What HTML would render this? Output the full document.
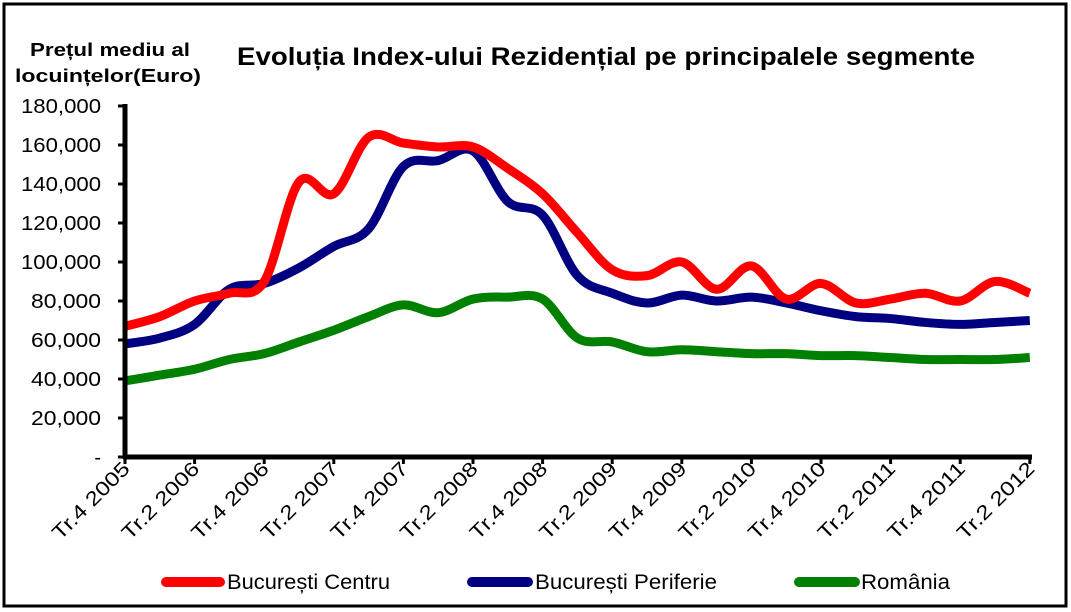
<!DOCTYPE html>
<html><head><meta charset="utf-8"><style>
html,body{margin:0;padding:0;background:#fff;}
svg{display:block;font-family:"Liberation Sans",sans-serif;}
</style></head><body>
<svg id="s" width="1071" height="612" xmlns="http://www.w3.org/2000/svg">
<rect x="4" y="4" width="1062" height="602" fill="#fff" stroke="#000" stroke-width="3"/>
<text x="110" y="56" font-size="18" font-weight="bold" text-anchor="middle" textLength="160" lengthAdjust="spacingAndGlyphs">Prețul mediu al</text>
<text x="108" y="82" font-size="18" font-weight="bold" text-anchor="middle" textLength="186" lengthAdjust="spacingAndGlyphs">locuințelor(Euro)</text>
<text x="237" y="65" font-size="25" font-weight="bold" textLength="738" lengthAdjust="spacingAndGlyphs">Evoluția Index-ului Rezidențial pe principalele segmente</text>
<g id="g"></g>
<g font-size="21">
<line x1="166" y1="582" x2="220" y2="582" stroke="#ff0000" stroke-width="10" stroke-linecap="round"/>
<text x="227" y="589" textLength="163" lengthAdjust="spacingAndGlyphs">București Centru</text>
<line x1="472" y1="582" x2="528" y2="582" stroke="#000080" stroke-width="10" stroke-linecap="round"/>
<text x="535" y="589" textLength="182" lengthAdjust="spacingAndGlyphs">București Periferie</text>
<line x1="799" y1="582" x2="855" y2="582" stroke="#008000" stroke-width="10" stroke-linecap="round"/>
<text x="861" y="589" textLength="89" lengthAdjust="spacingAndGlyphs">România</text>
</g>
</svg>
<script>
var g=document.getElementById('g'),h='';
var X0=125,DX=34.8,Y0=457,YS=351/180000;
function X(i){return X0+DX*i}function Y(v){return Y0-v*YS}
for(var k=0;k<=9;k++){var y=Y(k*20000);h+='<line x1="118" y1="'+y+'" x2="125" y2="'+y+'" stroke="#000" stroke-width="3"/>';
h+='<text x="101" y="'+(y+7)+'" font-size="20" text-anchor="end"'+(k==0?'':' textLength="'+(k<5?70:80)+'" lengthAdjust="spacingAndGlyphs"')+'>'+(k==0?'-':(k*20)+',000')+'</text>';}
var labs=['Tr.4 2005','Tr.2 2006','Tr.4 2006','Tr.2 2007','Tr.4 2007','Tr.2 2008','Tr.4 2008','Tr.2 2009','Tr.4 2009','Tr.2 2010','Tr.4 2010','Tr.2 2011','Tr.4 2011','Tr.2 2012'];
for(var i=0;i<14;i++){var x=X(i*2);h+='<line x1="'+x+'" y1="457" x2="'+x+'" y2="464" stroke="#000" stroke-width="3"/>';
h+='<text transform="translate('+(x+6)+',470) rotate(-45)" font-size="20" text-anchor="end" textLength="100" lengthAdjust="spacingAndGlyphs">'+labs[i]+'</text>';}
var R=[67,72,80,84,90,141,135,164,161,159,159,148,135,115,96,93,100,86,98,81,89,79,81,84,80,90,84];
var B=[58,61,68,86,89,97,108,117,149,152,157,131,124,93,84,79,83,80,82,79,75,72,71,69,68,69,70];
var G=[39,42,45,50,53,59,65,72,78,74,81,82,81,61,59,54,55,54,53,53,52,52,51,50,50,50,51];
function path(d,c){var p=d.map(function(v,i){return[X(i),Y(v*1000)]});var s='M'+p[0][0]+','+p[0][1];
for(var i=0;i<p.length-1;i++){var a=p[i-1]||p[i],b=p[i],c2=p[i+1],e=p[i+2]||c2;
s+=' C'+(b[0]+(c2[0]-a[0])/6)+','+(b[1]+(c2[1]-a[1])/6)+' '+(c2[0]-(e[0]-b[0])/6)+','+(c2[1]-(e[1]-b[1])/6)+' '+c2[0]+','+c2[1];}
return '<path d="'+s+'" fill="none" stroke="'+c+'" stroke-width="9" stroke-linejoin="round"/>';}
h+=path(G,'#008000')+path(B,'#000080')+path(R,'#ff0000');
h+='<line x1="125" y1="104" x2="125" y2="459" stroke="#000" stroke-width="5"/><line x1="123" y1="457" x2="1032" y2="457" stroke="#000" stroke-width="5"/>';
g.innerHTML=h;
</script>
</body></html>
